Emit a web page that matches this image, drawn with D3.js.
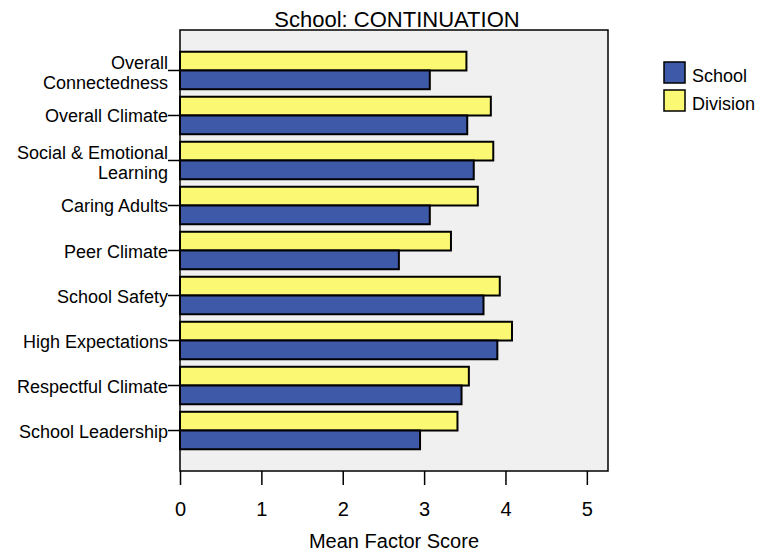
<!DOCTYPE html>
<html>
<head>
<meta charset="utf-8">
<script src="https://cdn.jsdelivr.net/npm/d3@7"></script>
<style>
  body { margin: 0; background: #fff; }
  text { font-family: "Liberation Sans", Arial, sans-serif; fill: #000; }
</style>
</head>
<body>
<svg width="757" height="552"></svg>
<script>
// chart data
var categories = ["Overall\nConnectedness", "Overall Climate", "Social & Emotional\nLearning",
  "Caring Adults", "Peer Climate", "School Safety", "High Expectations",
  "Respectful Climate", "School Leadership"];
var division = [3.52, 3.82, 3.85, 3.66, 3.33, 3.93, 4.08, 3.55, 3.41];
var school = [3.07, 3.53, 3.61, 3.07, 2.69, 3.73, 3.90, 3.46, 2.95];
var xTicks = [0, 1, 2, 3, 4, 5];
var seriesNames = ["School", "Division"];

var colors = {School: "#3f59a9", Division: "#fbf873"};

var svg = d3.select("svg"),
    margin = {top: 30, right: 149, bottom: 81, left: 180},
    width = +svg.attr("width") - margin.left - margin.right,
    height = +svg.attr("height") - margin.top - margin.bottom;

var x = d3.scaleLinear().domain([0, 5.26]).range([0, width]);
var y = d3.scaleBand().domain(categories).range([0, height])
    .paddingInner(0.167).paddingOuter(0.483);

var g = svg.append("g")
    .attr("transform", "translate(" + margin.left + "," + margin.top + ")");

// plot background
g.append("rect")
    .attr("width", width).attr("height", height)
    .attr("fill", "#f0f0f0").attr("stroke", "#000").attr("stroke-width", 1.5);

// title
svg.append("text")
    .attr("x", 397).attr("y", 27)
    .attr("text-anchor", "middle").attr("font-size", 22)
    .text("School: CONTINUATION");

// bars: division on top, school below
var rows = categories.map(function(c, i) {
  return {cat: c, Division: division[i], School: school[i]};
});
var half = y.bandwidth() / 2;

["Division", "School"].forEach(function(s, k) {
  g.selectAll(".bar-" + s)
    .data(rows)
    .enter().append("rect")
      .attr("class", "bar-" + s)
      .attr("x", x(0))
      .attr("y", function(d) { return y(d.cat) + k * half; })
      .attr("width", function(d) { return x(d[s]); })
      .attr("height", half)
      .attr("fill", colors[s])
      .attr("stroke", "#000").attr("stroke-width", 2);
});

// x axis
var xAxis = g.append("g")
    .attr("transform", "translate(0," + height + ")")
    .call(d3.axisBottom(x).tickValues(xTicks).tickFormat(d3.format("d"))
      .tickSize(14).tickPadding(17));
xAxis.select(".domain").remove();
xAxis.selectAll("line").attr("stroke", "#000").attr("stroke-width", 1.5);
xAxis.selectAll("text").attr("font-size", 20)
    .attr("font-family", "Liberation Sans, Arial, sans-serif");

svg.append("text")
    .attr("x", 394).attr("y", 548)
    .attr("text-anchor", "middle").attr("font-size", 20)
    .text("Mean Factor Score");

// y axis
var yAxis = g.append("g")
    .call(d3.axisLeft(y).tickSize(12).tickFormat(""));
yAxis.select(".domain").remove();
yAxis.selectAll("line").attr("stroke", "#000").attr("stroke-width", 1.5);

categories.forEach(function(c) {
  var lines = c.split("\n");
  var cy = y(c) + y.bandwidth() / 2;
  var t = g.append("text")
      .attr("text-anchor", "end").attr("font-size", 18);
  lines.forEach(function(l, i) {
    var dy = lines.length === 1 ? 7 : (i === 0 ? -1.5 : 18.5);
    t.append("tspan").attr("x", -12).attr("y", cy + dy).text(l);
  });
});

// legend
var legend = svg.append("g").attr("transform", "translate(664,62)");
seriesNames.forEach(function(s, i) {
  legend.append("rect")
      .attr("x", 0).attr("y", i * 28)
      .attr("width", 21).attr("height", 21)
      .attr("fill", colors[s]).attr("stroke", "#000").attr("stroke-width", 1.5);
  legend.append("text")
      .attr("x", 28).attr("y", i * 28 + 20)
      .attr("font-size", 18).text(s);
});
</script>
</body>
</html>
